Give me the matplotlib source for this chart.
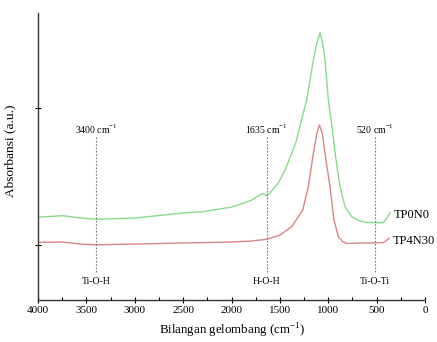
import matplotlib
matplotlib.use("Agg")
import matplotlib.pyplot as plt
from matplotlib.ticker import MultipleLocator

plt.rcParams['font.family'] = ['Liberation Serif', 'DejaVu Serif']
plt.rcParams['mathtext.fontset'] = 'custom'
plt.rcParams['mathtext.rm'] = 'Liberation Serif'

# Data (wavenumber cm^-1, absorbance a.u.)
wn_tp0n0 = [4000, 3740, 3600, 3400, 3000, 2500, 2300, 2000, 1806, 1678, 1636, 1602, 1516,
            1447, 1378, 1330, 1290, 1223, 1154, 1120, 1085, 1060, 1034, 999, 964, 930,
            879, 827, 758, 672, 600, 435, 400, 360]
ab_tp0n0 = [0.204, 0.214, 0.201, 0.188, 0.197, 0.234, 0.243, 0.277, 0.323, 0.377, 0.358, 0.380, 0.453,
            0.547, 0.669, 0.760, 0.876, 1.058, 1.350, 1.470, 1.550, 1.480, 1.350, 1.058, 0.876, 0.672,
            0.426, 0.280, 0.207, 0.175, 0.165, 0.163, 0.190, 0.236]

wn_tp4n30 = [4000, 3750, 3550, 3400, 3000, 2500, 2000, 1800, 1636, 1499, 1378, 1264,
             1206, 1154, 1120, 1092, 1060, 1034, 982, 941, 896, 850, 809, 672, 600, 435, 400, 370]
ab_tp4n30 = [0.020, 0.022, 0.007, 0.002, 0.007, 0.015, 0.022, 0.029, 0.042, 0.073, 0.134, 0.255,
             0.426, 0.669, 0.810, 0.876, 0.810, 0.669, 0.426, 0.182, 0.061, 0.025, 0.012, 0.015, 0.015, 0.017, 0.033, 0.049]

peak_pos = [3400, 1635, 520]
peak_top = ["3400 cm$^{-1}$", "1635 cm$^{-1}$", "520 cm$^{-1}$"]
peak_bot = ["Ti-O-H", "H-O-H", "Ti-O-Ti"]

fig = plt.figure(figsize=(4.37, 3.42), dpi=100)
ax = fig.add_axes([0.087, 0.1228, 0.8856, 0.839])

ax.plot(wn_tp0n0, ab_tp0n0, color='#86dc86', lw=1.0)
ax.plot(wn_tp4n30, ab_tp4n30, color='#d98585', lw=1.0)

for p, t, b in zip(peak_pos, peak_top, peak_bot):
    ax.plot([p, p], [0.788, -0.204], color='#777777', lw=0.8, ls=(0, (1.5, 1.5)))
    ax.text(p, 0.845, t, ha='center', va='center', fontsize=7)
    ax.text(p, -0.263, b, ha='center', va='center', fontsize=7)

ax.text(325, 0.219, "TP0N0", ha='left', va='center', fontsize=9)
ax.text(335, 0.03, "TP4N30", ha='left', va='center', fontsize=9)

ax.set_xlim(4000, 0)
ax.set_ylim(-0.401, 1.693)
ax.set_yticks([0, 1])
ax.set_yticklabels([])
ax.xaxis.set_major_locator(MultipleLocator(500))
ax.xaxis.set_minor_locator(MultipleLocator(250))
ax.tick_params(axis='x', which='major', direction='inout', length=5, width=0.8, labelsize=8, pad=2)
ax.tick_params(axis='x', which='minor', direction='in', length=2.5, width=0.8)
ax.tick_params(axis='y', which='major', direction='inout', length=4, width=0.8)

for s in ['top', 'right']:
    ax.spines[s].set_visible(False)
for s in ['left', 'bottom']:
    ax.spines[s].set_linewidth(1.0)
    ax.spines[s].set_color('#333333')

ax.set_xlabel("Bilangan gelombang (cm$^{-1}$)", fontsize=9.3, labelpad=5)
ax.set_ylabel("Absorbansi (a.u.)", fontsize=9.6, labelpad=8)
ax.yaxis.set_label_coords(-0.055, 0.52)

fig.savefig("out.png", dpi=100)
